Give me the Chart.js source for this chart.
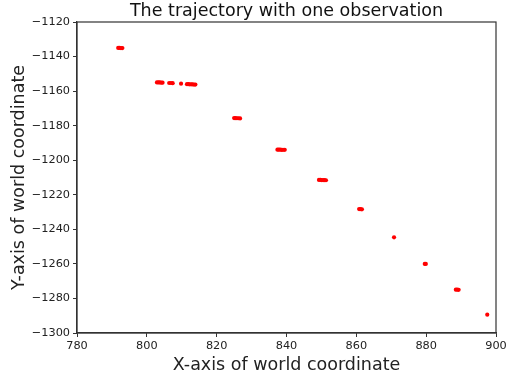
<!DOCTYPE html>
<html>
<head>
<meta charset="utf-8">
<script src="https://cdn.jsdelivr.net/npm/chart.js@4/dist/chart.umd.min.js"></script>
<style>
  html, body { margin: 0; padding: 0; background: #fff; }
  #wrap { width: 507px; height: 380px; }
</style>
</head>
<body>
<div id="wrap"><canvas id="trajChart" width="507" height="380"></canvas></div>
<script>
/* trajectory samples (world coordinates) */
const trajX = [
  791.8, 792.2, 792.6, 793.0,
  802.9, 803.3, 803.7, 804.1, 804.5,
  806.4, 806.9, 807.4,
  809.8,
  811.5, 811.9, 812.3, 812.7, 813.1, 813.5, 813.9,
  825.0, 825.4, 825.8, 826.2, 826.7,
  837.4, 837.8, 838.2, 838.6, 839.0, 839.5,
  849.3, 849.7, 850.1, 850.5, 850.9, 851.3,
  860.8, 861.2, 861.6,
  870.8,
  879.6, 879.9,
  888.5, 888.9, 889.3,
  897.5
];
const trajY = [
  -1135.0, -1135.0, -1135.1, -1135.1,
  -1155.0, -1155.0, -1155.0, -1155.1, -1155.1,
  -1155.3, -1155.3, -1155.4,
  -1155.7,
  -1156.0, -1156.0, -1156.1, -1156.1, -1156.1, -1156.2, -1156.2,
  -1175.6, -1175.6, -1175.7, -1175.7, -1175.8,
  -1193.9, -1193.9, -1193.9, -1194.0, -1194.0, -1194.0,
  -1211.4, -1211.4, -1211.5, -1211.5, -1211.5, -1211.6,
  -1228.3, -1228.3, -1228.4,
  -1244.6,
  -1260.0, -1260.0,
  -1274.9, -1274.9, -1275.0,
  -1289.4
];

const xTicks = [780, 800, 820, 840, 860, 880, 900];
const yTicks = [-1300, -1280, -1260, -1240, -1220, -1200, -1180, -1160, -1140, -1120];

const chartTitle = 'The trajectory with one observation';

const points = trajX.map((x, i) => ({ x: x, y: trajY[i] }));

const FONT = "'DejaVu Sans', sans-serif";
const minus = v => String(v).replace('-', '\u2212');

/* closed box around the plot area + title centred over it */
const frame = {
  id: 'frame',
  afterDraw(chart) {
    const a = chart.chartArea;
    const ctx = chart.ctx;
    ctx.save();
    ctx.strokeStyle = '#333';
    ctx.lineWidth = 1.2;
    ctx.strokeRect(a.left, a.top, a.right - a.left, a.bottom - a.top);

    ctx.fillStyle = '#111';
    ctx.font = '17.5px ' + FONT;
    ctx.textAlign = 'center';
    ctx.textBaseline = 'alphabetic';
    ctx.fillText(chartTitle, (a.left + a.right) / 2, 16);
    ctx.restore();
  }
};

new Chart(document.getElementById('trajChart'), {
  type: 'scatter',
  data: {
    datasets: [{
      data: points,
      backgroundColor: '#ff0000',
      borderWidth: 0,
      pointRadius: 2.1,
      pointHoverRadius: 2.1
    }]
  },
  options: {
    responsive: false,
    animation: false,
    events: [],
    layout: { padding: { left: 0, right: 11, top: 22, bottom: 0 } },
    plugins: {
      legend: { display: false },
      tooltip: { enabled: false },
      title: { display: false }
    },
    scales: {
      x: {
        type: 'linear',
        min: xTicks[0],
        max: xTicks[xTicks.length - 1],
        afterBuildTicks: s => { s.ticks = xTicks.map(v => ({ value: v })); },
        afterFit: s => { s.height = 47; s.paddingLeft = 0; s.paddingRight = 0; },
        border: { display: true, color: '#333', width: 1.2 },
        grid: { drawOnChartArea: false, drawTicks: true, tickLength: 4, color: '#333' },
        ticks: {
          color: '#222',
          padding: 2,
          maxRotation: 0,
          font: { family: FONT, size: 11.3 },
          callback: v => minus(v)
        },
        title: {
          display: true,
          text: 'X-axis of world coordinate',
          color: '#222',
          font: { family: FONT, size: 17.5 },
          padding: { top: 0, bottom: 4 }
        }
      },
      y: {
        type: 'linear',
        min: yTicks[0],
        max: yTicks[yTicks.length - 1],
        afterBuildTicks: s => { s.ticks = yTicks.map(v => ({ value: v })); },
        afterFit: s => { s.width = 77; },
        border: { display: true, color: '#333', width: 1.2 },
        grid: { drawOnChartArea: false, drawTicks: true, tickLength: 4, color: '#333' },
        ticks: {
          color: '#222',
          padding: 3,
          font: { family: FONT, size: 11.3 },
          callback: v => minus(v)
        },
        title: {
          display: true,
          text: 'Y-axis of world coordinate',
          color: '#222',
          font: { family: FONT, size: 17.5 },
          padding: { top: 8.5, bottom: 0 }
        }
      }
    }
  },
  plugins: [frame]
});
</script>
</body>
</html>
